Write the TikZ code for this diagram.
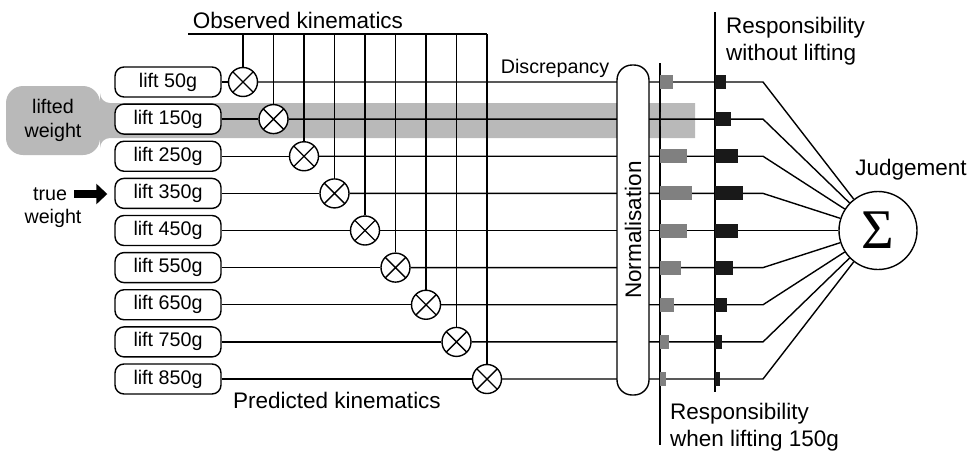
\documentclass[tikz,border=0pt]{standalone}
\usepackage{fontspec}
\setmainfont{Liberation Sans}
\newfontfamily\sigmafont{Liberation Serif}
\usetikzlibrary{arrows.meta}
\tikzset{
  liftbox/.style={draw, fill=white, rounded corners=9pt, minimum width=106pt, minimum height=30pt, inner sep=0pt, font=\fontsize{19.7}{23}\selectfont},
  otimes/.style={draw, fill=white, circle, minimum size=29pt, inner sep=0pt,
    path picture={\draw (path picture bounding box.north west) -- (path picture bounding box.south east)
                        (path picture bounding box.north east) -- (path picture bounding box.south west);}},
  small/.style={font=\fontsize{19.7}{24}\selectfont},
}
\begin{document}
\begin{tikzpicture}[x=1pt,y=-1pt,line width=1.4pt,font=\fontsize{22.5}{27}\selectfont]
  \useasboundingbox (0,0) rectangle (969,453);
  % highlighted row
  \fill[gray!55] (6,120) [rounded corners=17pt] -- (6,86) -- (100,86) [rounded corners=10pt] -- (100,103) [sharp corners] -- (695,103)
     -- (695,138) [rounded corners=10pt] -- (100,138) [rounded corners=17pt] -- (100,155) -- (6,155) [sharp corners] -- (6,120);
  \node[small, align=center] (lifted) at (53,120) {lifted\\weight};
  \node[small] (tr) at (50,194) {true};
  \node[small] (trw) at (53,218) {weight};

  \node[liftbox] (l1) at (168,82) {lift 50g};
  \node[liftbox] (l2) at (168,119.1) {lift 150g};
  \node[liftbox] (l3) at (168,156.25) {lift 250g};
  \node[liftbox] (l4) at (168,193.4) {lift 350g};
  \node[liftbox] (l5) at (168,230.5) {lift 450g};
  \node[liftbox] (l6) at (168,267.6) {lift 550g};
  \node[liftbox] (l7) at (168,304.75) {lift 650g};
  \node[liftbox] (l8) at (168,341.9) {lift 750g};
  \node[liftbox] (l9) at (168,379) {lift 850g};

  \node[otimes] (x1) at (243,82) {};
  \node[otimes] (x2) at (273.5,119.1) {};
  \node[otimes] (x3) at (304,156.25) {};
  \node[otimes] (x4) at (334.5,193.4) {};
  \node[otimes] (x5) at (365,230.5) {};
  \node[otimes] (x6) at (395.5,267.6) {};
  \node[otimes] (x7) at (426,304.75) {};
  \node[otimes] (x8) at (456.5,341.9) {};
  \node[otimes] (x9) at (487,379) {};

  \node[draw, circle, minimum size=78pt, inner sep=0pt, font=\sigmafont\fontsize{56}{56}\selectfont] (sum) at (878,230.5) {Σ};

  \draw[line width=8pt, shorten <=3pt, shorten >=7pt, -{Triangle[length=11pt,width=20pt]}] (tr) -- (tr -| l4.west);

  % observed kinematics bus
  \coordinate (bus) at (188,34);
  \draw (bus) -- (x9 |- bus);
  \foreach \i in {1,...,9} {
    \draw (x\i) -- (x\i |- bus);
    \draw (l\i) -- (x\i);
    \coordinate (b\i) at (763,0 |- x\i);
    \draw (x\i) -- (b\i) -- (sum);
  }

  \node[draw, fill=white, rounded corners=15pt, rotate=90, minimum width=330pt, minimum height=32pt] (norm) at (633,230) {Normalisation};

  % responsibility axes and bars
  \draw (660,63) -- (660,445);
  \draw (715,12) -- (715,392);
  \foreach \i/\g/\b in {1/13/11, 2/0/16, 3/27/23, 4/32/28, 5/27/23, 6/21/18, 7/14/12, 8/9/7, 9/6/5} {
    \fill[gray] (660,0 |- x\i) ++(0,-7) rectangle ++(\g,14);
    \fill[black!90] (715,0 |- x\i) ++(0,-7) rectangle ++(\b,14);
  }

  \node (obs) at (298,20) {Observed kinematics};
  \node (pred) at (337,400) {Predicted kinematics};
  \node[small] (disc) at (555,68) {Discrepancy};
  \node[align=left, anchor=west] (rwo) at (722,41) {Responsibility\\without lifting};
  \node[align=left, anchor=west] (rw) at (666,427) {Responsibility\\when lifting 150g};
  \node (judge) at (911,170) {Judgement};
\end{tikzpicture}
\end{document}
